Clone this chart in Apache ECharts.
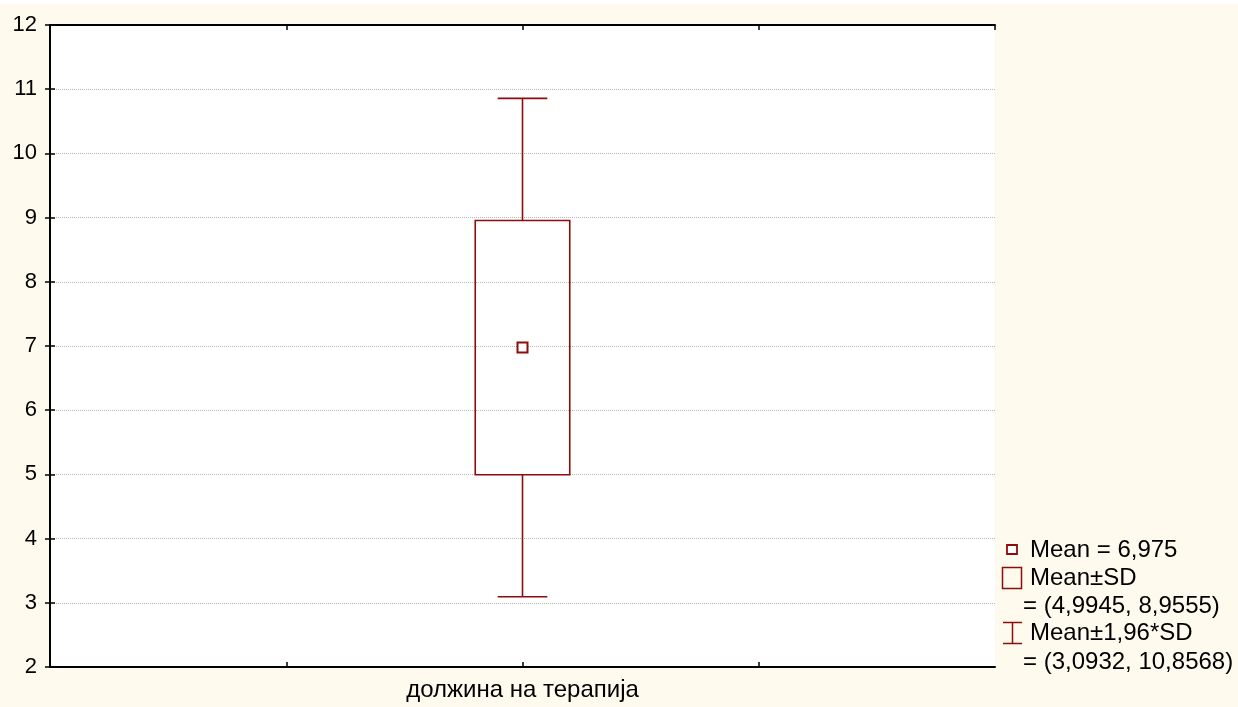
<!DOCTYPE html>
<html><head><meta charset="utf-8">
<script src="https://cdn.jsdelivr.net/npm/echarts@6/dist/echarts.min.js"></script>
<style>html,body{margin:0;padding:0;background:#fffaee;}#c{width:1238px;height:707px;}</style>
</head><body><div id="c"></div>
<script>
const categories = ['должина на терапија'];
const meanValues = [6.975];
const sdLow = [4.9945];
const sdHigh = [8.9555];
const ciLow = [3.0932];
const ciHigh = [10.8568];
const yMin = 2, yMax = 12, yStep = 1;

const RED = '#8e0c0c';
const FONT = 'Liberation Sans, Arial, sans-serif';
const fmt = (v) => String(v).replace('.', ',');

const xMax = 4 * categories.length;
const xPos = categories.map((c, i) => 4 * i + 2);

const boxData = categories.map((c, i) => [xPos[i], ciLow[i], sdLow[i], sdHigh[i], ciHigh[i]]);
const meanData = categories.map((c, i) => [xPos[i], meanValues[i]]);

const chart = echarts.init(document.getElementById('c'), null, {renderer: 'canvas'});

const axisCommon = {
  axisLine: {show: true, lineStyle: {color: '#000', width: 2}},
  axisTick: {show: true, inside: true, length: 5, lineStyle: {color: '#000', width: 1.5}},
};

const LF = 24;

chart.setOption({
  backgroundColor: '#fffaee',
  animation: false,
  grid: {left: 50, right: 243, top: 25, bottom: 40, show: true, backgroundColor: '#ffffff', borderWidth: 0},
  xAxis: [
    Object.assign({}, axisCommon, {
      type: 'value', min: 0, max: xMax, interval: 1, position: 'bottom',
      splitLine: {show: false},
      axisLabel: {
        showMinLabel: false, showMaxLabel: false,
        formatter: (v) => { const i = xPos.indexOf(v); return i >= 0 ? categories[i] : ''; },
        color: '#000', fontSize: 24, fontFamily: FONT, margin: 11
      }
    }),
    Object.assign({}, axisCommon, {
      type: 'value', min: 0, max: xMax, interval: 1, position: 'top',
      splitLine: {show: false}, axisLabel: {show: false}
    })
  ],
  yAxis: [
    Object.assign({}, axisCommon, {
      type: 'value', min: yMin, max: yMax, interval: yStep, position: 'left',
      splitLine: {show: true, lineStyle: {color: '#b8b8b8', type: [1, 1], width: 1}},
      axisLabel: {color: '#000', fontSize: 22, fontFamily: FONT, margin: 13}
    }),
    Object.assign({}, axisCommon, {
      type: 'value', min: yMin, max: yMax, interval: yStep, position: 'right',
      splitLine: {show: false}, axisLabel: {show: false}
    })
  ],
  series: [
    {
      type: 'custom',
      xAxisIndex: 0, yAxisIndex: 0,
      data: boxData,
      renderItem: function (params, api) {
        const x = api.value(0);
        const pLow = api.coord([x, api.value(1)]);
        const pQ1 = api.coord([x, api.value(2)]);
        const pQ3 = api.coord([x, api.value(3)]);
        const pHigh = api.coord([x, api.value(4)]);
        const boxW = api.size([0.4, 0])[0];
        const capW = api.size([0.21, 0])[0];
        const cx = pLow[0];
        const ls = {stroke: RED, lineWidth: 1.6, fill: null};
        return {
          type: 'group',
          children: [
            {type: 'line', shape: {x1: cx, y1: pLow[1], x2: cx, y2: pQ1[1]}, style: ls},
            {type: 'line', shape: {x1: cx, y1: pQ3[1], x2: cx, y2: pHigh[1]}, style: ls},
            {type: 'line', shape: {x1: cx - capW / 2, y1: pLow[1], x2: cx + capW / 2, y2: pLow[1]}, style: ls},
            {type: 'line', shape: {x1: cx - capW / 2, y1: pHigh[1], x2: cx + capW / 2, y2: pHigh[1]}, style: ls},
            {type: 'rect', shape: {x: cx - boxW / 2, y: pQ3[1], width: boxW, height: pQ1[1] - pQ3[1]},
             style: {stroke: RED, lineWidth: 1.6, fill: 'rgba(0,0,0,0)'}}
          ]
        };
      },
      z: 3
    },
    {
      type: 'scatter',
      xAxisIndex: 0, yAxisIndex: 0,
      data: meanData,
      symbol: 'rect', symbolSize: 10,
      itemStyle: {color: '#ffffff', borderColor: RED, borderWidth: 2, opacity: 1},
      z: 4
    }
  ],
  graphic: [
    {type: 'rect', left: 0, top: 0, shape: {width: 1238, height: 4}, style: {fill: '#ffffff'}, silent: true},
    {type: 'rect', shape: {x: 1007, y: 545, width: 10, height: 9}, style: {fill: '#fff', stroke: RED, lineWidth: 1.8}},
    {type: 'text', style: {x: 1030, y: 550, text: 'Mean = ' + fmt(meanValues[0]), fontSize: LF, fontFamily: FONT, fill: '#000', verticalAlign: 'middle'}},
    {type: 'rect', shape: {x: 1002.5, y: 567.5, width: 19, height: 21}, style: {fill: 'rgba(0,0,0,0)', stroke: RED, lineWidth: 1.5}},
    {type: 'text', style: {x: 1030, y: 578, text: 'Mean±SD', fontSize: LF, fontFamily: FONT, fill: '#000', verticalAlign: 'middle'}},
    {type: 'text', style: {x: 1023, y: 606, text: '= (' + fmt(sdLow[0]) + ', ' + fmt(sdHigh[0]) + ')', fontSize: LF, fontFamily: FONT, fill: '#000', verticalAlign: 'middle'}},
    {type: 'line', shape: {x1: 1003, y1: 622.5, x2: 1022, y2: 622.5}, style: {stroke: RED, lineWidth: 1.5}},
    {type: 'line', shape: {x1: 1012.5, y1: 622.5, x2: 1012.5, y2: 643.5}, style: {stroke: RED, lineWidth: 1.5}},
    {type: 'line', shape: {x1: 1003, y1: 643.5, x2: 1022, y2: 643.5}, style: {stroke: RED, lineWidth: 1.5}},
    {type: 'text', style: {x: 1030, y: 633, text: 'Mean±1,96*SD', fontSize: LF, fontFamily: FONT, fill: '#000', verticalAlign: 'middle'}},
    {type: 'text', style: {x: 1023, y: 662, text: '= (' + fmt(ciLow[0]) + ', ' + fmt(ciHigh[0]) + ')', fontSize: LF, fontFamily: FONT, fill: '#000', verticalAlign: 'middle'}}
  ]
});
</script>
</body></html>
